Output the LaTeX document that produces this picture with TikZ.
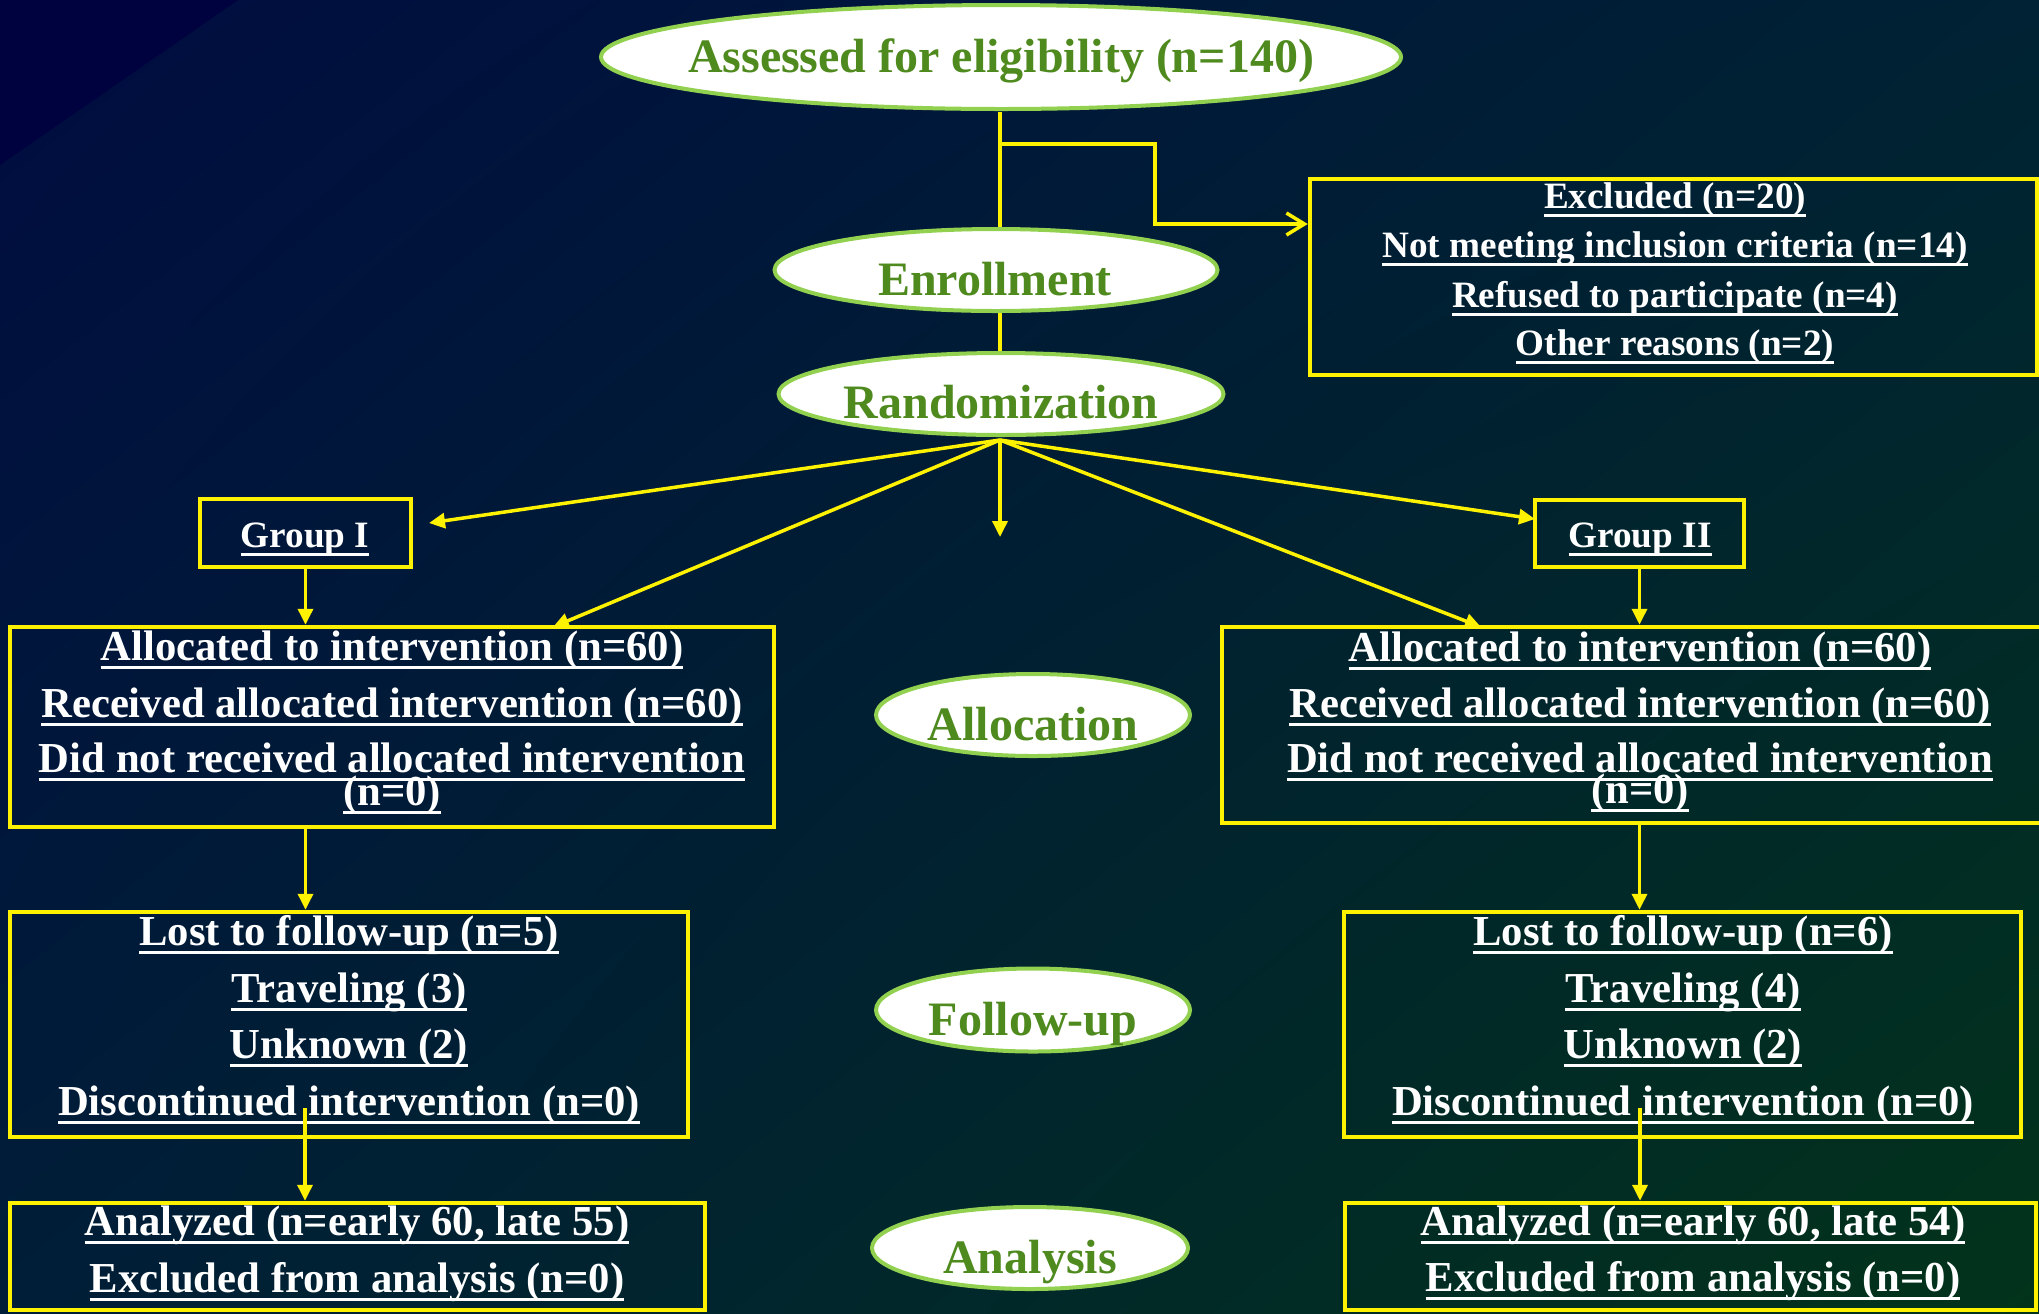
\documentclass[tikz,border=0pt]{standalone}
\usepackage{fontspec}
\setmainfont{Liberation Serif}
\usetikzlibrary{arrows.meta,shapes.geometric,shadings}
\definecolor{bgUL}{HTML}{000C40}
\definecolor{bgUR}{HTML}{002234}
\definecolor{bgLL}{HTML}{001E38}
\definecolor{bgLR}{HTML}{02331A}
\definecolor{bgCorner}{HTML}{00013F}
\definecolor{ellgreen}{HTML}{92D050}
\definecolor{txtgreen}{HTML}{4F8A1E}
\newsavebox\ulbox
\newcommand\myul[1]{\sbox\ulbox{#1}\rlap{\rule[-4.5pt]{\wd\ulbox}{1.5pt}}\usebox\ulbox}
\tikzset{
  ell/.style={ellipse, draw=ellgreen, fill=white, line width=2pt, inner sep=0pt},
  elltxt/.style={text=txtgreen, font=\fontsize{24}{28}\selectfont\bfseries, anchor=base, inner sep=0pt},
  box/.style={rectangle, draw=yellow, line width=2.25pt, inner sep=0pt},
  btxt/.style={text=white, font=\fontsize{21.35}{25}\selectfont\bfseries, anchor=base, inner sep=0pt},
  stxt/.style={text=white, font=\fontsize{18.6}{22}\selectfont\bfseries, anchor=base, inner sep=0pt},
  conn/.style={draw=yellow, line width=1.75pt},
  arr/.style={conn, -{Triangle[length=8pt,width=7.5pt]}},
  barb/.style={conn, -{Straight Barb[length=9pt,width=11pt]}}
}
\begin{document}
\begin{tikzpicture}[x=0.5pt, y=-0.5pt]
\useasboundingbox (0,0) rectangle (2039,1313);
\shade[upper left=bgUL, upper right=bgUR, lower left=bgLL, lower right=bgLR] (0,0) rectangle (2039,1313);
\fill[bgCorner] (0,0) -- (238,0) -- (0,165) -- cycle;

% ellipses
\node[ell, minimum width=400pt, minimum height=52pt] (assess) at (1001,57) {};
\node[elltxt] (assesst) at (1001,72) {Assessed for eligibility (n=140)};
\node[ell, minimum width=221.5pt, minimum height=41pt] (enroll) at (996,270) {};
\node[elltxt] (enrollt) at (995,295) {Enrollment};
\node[ell, minimum width=222.5pt, minimum height=41pt] (random) at (1001,394) {};
\node[elltxt] (randomt) at (1001,418) {Randomization};
\node[ell, minimum width=157pt, minimum height=41pt] (alloc) at (1033,715) {};
\node[elltxt] (alloct) at (1033,740) {Allocation};
\node[ell, minimum width=157pt, minimum height=41.5pt] (follow) at (1033,1010) {};
\node[elltxt] (followt) at (1033,1035) {Follow-up};
\node[ell, minimum width=158pt, minimum height=41pt] (analysis) at (1030,1248) {};
\node[elltxt] (analysist) at (1030,1273) {Analysis};

% boxes
\node[box, minimum width=363.5pt, minimum height=98pt] (excl) at (1673.5,277) {};
\node[stxt] (ex1) at (1675,208) {\myul{Excluded (n=20)}};
\node[stxt] (ex2) at (1675,257) {\myul{Not meeting inclusion criteria (n=14)}};
\node[stxt] (ex3) at (1675,307) {\myul{Refused to participate (n=4)}};
\node[stxt] (ex4) at (1675,355) {\myul{Other reasons (n=2)}};

\node[box, minimum width=105.5pt, minimum height=34pt] (g1) at (305.5,533) {};
\node[stxt] (g1t) at (305,547) {\myul{Group I}};
\node[box, minimum width=104.5pt, minimum height=33.5pt] (g2) at (1639.5,533.5) {};
\node[stxt] (g2t) at (1640,547) {\myul{Group II}};

\node[box, minimum width=382pt, minimum height=100pt] (a1) at (392,727) {};
\node[btxt] (a1t1) at (392,660) {\myul{Allocated to intervention (n=60)}};
\node[btxt] (a1t2) at (392,717) {\myul{Received allocated intervention (n=60)}};
\node[btxt] (a1t3) at (392,772) {\myul{Did not received allocated intervention}};
\node[btxt] (a1t4) at (392,805) {\myul{(n=0)}};

\node[box, minimum width=419pt, minimum height=98pt] (a2) at (1641,725) {};
\node[btxt] (a2t1) at (1640,661) {\myul{Allocated to intervention (n=60)}};
\node[btxt] (a2t2) at (1640,717) {\myul{Received allocated intervention (n=60)}};
\node[btxt] (a2t3) at (1640,772) {\myul{Did not received allocated intervention}};
\node[btxt] (a2t4) at (1640,803) {\myul{(n=0)}};

\node[box, minimum width=339pt, minimum height=112.5pt] (f1) at (349,1024.5) {};
\node[btxt] (f1t1) at (349,945) {\myul{Lost to follow-up (n=5)}};
\node[btxt] (f1t2) at (349,1002) {\myul{Traveling (3)}};
\node[btxt] (f1t3) at (349,1058) {\myul{Unknown (2)}};
\node[btxt] (f1t4) at (349,1115) {\myul{Discontinued intervention (n=0)}};

\node[box, minimum width=338.5pt, minimum height=112.5pt] (f2) at (1682.5,1024.5) {};
\node[btxt] (f2t1) at (1683,945) {\myul{Lost to follow-up (n=6)}};
\node[btxt] (f2t2) at (1683,1002) {\myul{Traveling (4)}};
\node[btxt] (f2t3) at (1683,1058) {\myul{Unknown (2)}};
\node[btxt] (f2t4) at (1683,1115) {\myul{Discontinued intervention (n=0)}};

\node[box, minimum width=347.5pt, minimum height=53.5pt] (an1) at (357.5,1256.5) {};
\node[btxt] (an1t1) at (357,1235) {\myul{Analyzed (n=early 60, late 55)}};
\node[btxt] (an1t2) at (357,1292) {\myul{Excluded from analysis (n=0)}};

\node[box, minimum width=345.5pt, minimum height=53.5pt] (an2) at (1690.5,1256.5) {};
\node[btxt] (an2t1) at (1693,1235) {\myul{Analyzed (n=early 60, late 54)}};
\node[btxt] (an2t2) at (1693,1291) {\myul{Excluded from analysis (n=0)}};

% coordinates
\coordinate (top) at (1000,112);
\coordinate (br) at (1000,144);
\coordinate (bend) at (1155,224);
\coordinate (apex) at (1000,440);
\coordinate (g1in) at (429,523);
\coordinate (a1in) at (553,627);
\coordinate (downtip) at (1000,537);
\coordinate (a2in) at (1481,627);
\coordinate (g2in) at (1535,519);
\coordinate (f1out) at (305,1108);
\coordinate (f2out) at (1640,1108);

% connectors
\draw[conn] (top) -- (top |- enroll.north);
\draw[barb] (br) -| (bend) -- (excl.west |- bend);
\draw[conn] (top |- enroll.south) -- (top |- random.north);
\draw[arr] (apex) -- (g1in);
\draw[arr] (apex) -- (a1in);
\draw[arr] (apex) -- (downtip);
\draw[arr] (apex) -- (a2in);
\draw[arr] (apex) -- (g2in);
\draw[arr] (g1.south) -- (g1.south |- a1.north);
\draw[arr] (g2.south) -- (g2.south |- a2.north);
\draw[arr] (g1.south |- a1.south) -- (g1.south |- f1.north);
\draw[arr] (g2.south |- a2.south) -- (g2.south |- f2.north);
\draw[arr] (f1out) -- (f1out |- an1.north);
\draw[arr] (f2out) -- (f2out |- an2.north);
\end{tikzpicture}
\end{document}
